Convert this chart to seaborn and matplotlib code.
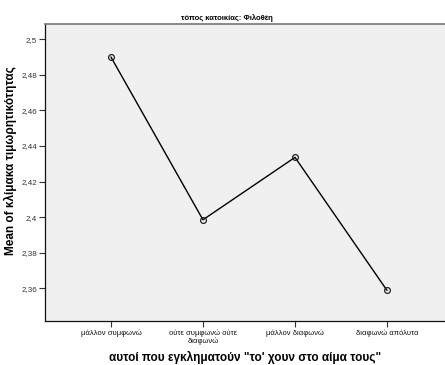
import pandas as pd
import numpy as np
import seaborn as sns
import matplotlib.pyplot as plt
from matplotlib.ticker import FuncFormatter

categories = ['μάλλον συμφωνώ', 'ούτε συμφωνώ ούτε\nδιαφωνώ', 'μάλλον διαφωνώ', 'διαφωνώ απόλυτα']
means = [2.490, 2.3985, 2.4336, 2.3588]
yticks = [2.36, 2.38, 2.40, 2.42, 2.44, 2.46, 2.48, 2.50]

df = pd.DataFrame({'cat': categories, 'mean': means})

sns.set_style('white')
plt.rcParams['font.family'] = ['Liberation Sans', 'DejaVu Sans']

fig = plt.figure(figsize=(4.45, 3.65), dpi=100)
ax = fig.add_axes([0.101, 0.1205, 0.899, 0.8135])
ax.set_facecolor('#f0f0f0')

sns.lineplot(data=df, x='cat', y='mean', ax=ax, color='black', linewidth=1,
             marker='o', markersize=4.2, markerfacecolor='none',
             markeredgecolor='#222222', markeredgewidth=0.9, sort=False)

ax.set_xlim(-0.717, 3.63)
ax.set_ylim(2.3416, 2.5085)
ax.set_yticks(yticks)
ax.yaxis.set_major_formatter(FuncFormatter(lambda v, p: ('%g' % round(v, 2)).replace('.', ',')))
ax.tick_params(axis='both', labelsize=5.8, length=4, width=0.8, colors='#333333',
               direction='out', bottom=True, left=True)
ax.tick_params(axis='x', pad=2, labelsize=5.5, labelcolor='#111111')
ax.tick_params(axis='y', pad=1.5)
for s in ['left', 'bottom']:
    ax.spines[s].set_color('#111111')
    ax.spines[s].set_linewidth(0.9)
ax.spines['top'].set_color('#777777')
ax.spines['top'].set_linewidth(1.2)
ax.spines['right'].set_visible(False)

ax.set_xlabel('αυτοί που εγκληματούν "το\' χουν στο αίμα τους"', fontsize=8.5,
              fontweight='bold', color='black')
ax.xaxis.set_label_coords(0.5, -0.1)
ax.set_ylabel('Mean of κλίμακα τιμωρητικότητας', fontsize=8.5, fontweight='bold', color='black')
ax.yaxis.set_label_coords(-0.07, 0.542)
ax.set_title('τόπος κατοικίας: Φιλοθέη', fontsize=5.5, fontweight='bold', pad=3, x=0.455,
             color='black')

fig.savefig('out.png', dpi=100)
